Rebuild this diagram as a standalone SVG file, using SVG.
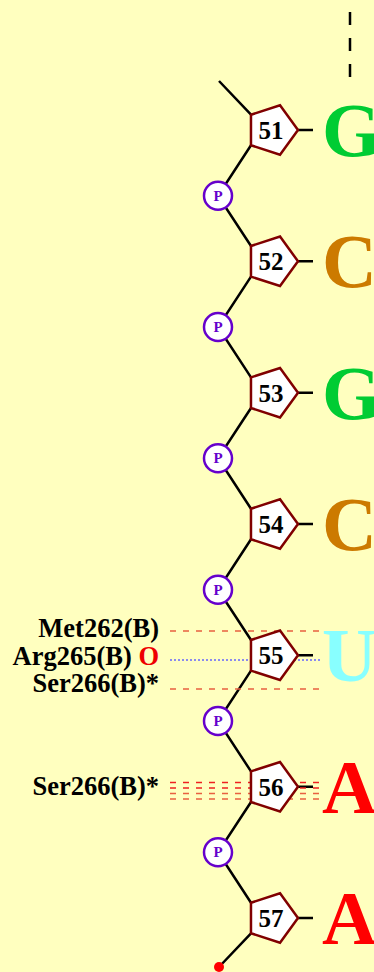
<svg xmlns="http://www.w3.org/2000/svg" xmlns:xlink="http://www.w3.org/1999/xlink" width="374" height="972" viewBox="0 0 374 972">
<style>
text{font-family:"Liberation Serif","Times New Roman",serif;font-weight:bold}
.bb{stroke:#000;stroke-width:2.5;fill:none}
.pent{fill:#fff;stroke:#800000;stroke-width:2.5}
.num{font-size:25px;fill:#000;text-anchor:middle}
.ph{fill:#fff;stroke:#6600cc;stroke-width:2.5}
.pt{font-size:15px;fill:#6600cc;text-anchor:middle}
.base{font-size:76px}
.lab{font-size:26.5px;fill:#000;text-anchor:end}
.hb{stroke:#e86040;stroke-width:1.3;stroke-dasharray:6 7;fill:none}
.hr{stroke:#ee2020;stroke-width:1.3;stroke-dasharray:6 7;fill:none}
.vdw{stroke:#6666ff;stroke-width:1.5;stroke-dasharray:2 2;fill:none}
</style>
<defs>
<polygon id="pent" points="26,0 8.03,24.73 -21.03,15.28 -21.03,-15.28 8.03,-24.73"/>
</defs>
<rect width="374" height="972" fill="#ffffbf"/>
<g id="connectors">
<line x1="350" y1="12" x2="350" y2="77" stroke="#000" stroke-width="2.5" stroke-dasharray="13 13"/>
<path class="bb" d="M219,81 L251,114.7 M251,145.3 L218,195.7 L251,246 M251,276.6 L218,327 L251,377.4 M251,408 L218,458.3 L251,508.7 M251,539.3 L218,589.7 L251,640 M251,670.6 L218,721 L251,771.4 M251,802 L218,852.3 L251,902.7 M251,933.3 L219,967"/>
<path class="bb" d="M298,130 H313 M298,261.3 H313 M298,392.7 H313 M298,524 H313 M298,655.3 H313 M298,786.7 H313 M298,918 H313"/>
<line class="hb" x1="170" y1="631" x2="322" y2="631"/>
<line class="vdw" x1="170" y1="660" x2="322" y2="660"/>
<line class="hb" x1="170" y1="689" x2="322" y2="689"/>
<line class="hr" x1="170" y1="782.5" x2="322" y2="782.5"/>
<line class="hr" x1="170" y1="788" x2="322" y2="788"/>
<line class="hb" x1="170" y1="793.5" x2="322" y2="793.5"/>
<line class="hb" x1="170" y1="799" x2="322" y2="799"/>
<circle cx="219" cy="967" r="5" fill="#ff0000"/>
</g>
<g id="n51"><use xlink:href="#pent" href="#pent" class="pent" x="272" y="130"/><text class="num" x="271" y="139">51</text><text class="base" x="322" y="156" fill="#00cc33">G</text></g>
<g id="p1"><circle class="ph" cx="218" cy="195.7" r="14"/><text class="pt" x="218" y="200.8">P</text></g>
<g id="n52"><use xlink:href="#pent" href="#pent" class="pent" x="272" y="261.3"/><text class="num" x="271" y="270.3">52</text><text class="base" x="322" y="287.3" fill="#cc7a00">C</text></g>
<g id="p2"><circle class="ph" cx="218" cy="327" r="14"/><text class="pt" x="218" y="332.1">P</text></g>
<g id="n53"><use xlink:href="#pent" href="#pent" class="pent" x="272" y="392.7"/><text class="num" x="271" y="401.7">53</text><text class="base" x="322" y="418.7" fill="#00cc33">G</text></g>
<g id="p3"><circle class="ph" cx="218" cy="458.3" r="14"/><text class="pt" x="218" y="463.4">P</text></g>
<g id="n54"><use xlink:href="#pent" href="#pent" class="pent" x="272" y="524"/><text class="num" x="271" y="533">54</text><text class="base" x="322" y="550" fill="#cc7a00">C</text></g>
<g id="p4"><circle class="ph" cx="218" cy="589.7" r="14"/><text class="pt" x="218" y="594.8">P</text></g>
<g id="n55"><use xlink:href="#pent" href="#pent" class="pent" x="272" y="655.3"/><text class="num" x="271" y="664.3">55</text><text class="base" x="322" y="681.3" fill="#88ffff">U</text></g>
<g id="p5"><circle class="ph" cx="218" cy="721" r="14"/><text class="pt" x="218" y="726.1">P</text></g>
<g id="n56"><use xlink:href="#pent" href="#pent" class="pent" x="272" y="786.7"/><text class="num" x="271" y="795.7">56</text><text class="base" x="322" y="812.7" fill="#ff0000">A</text></g>
<g id="p6"><circle class="ph" cx="218" cy="852.3" r="14"/><text class="pt" x="218" y="857.4">P</text></g>
<g id="n57"><use xlink:href="#pent" href="#pent" class="pent" x="272" y="918"/><text class="num" x="271" y="927">57</text><text class="base" x="322" y="944" fill="#ff0000">A</text></g>
<g id="res-met262"><text class="lab" x="159" y="637">Met262(B)</text></g>
<g id="res-arg265"><text class="lab" x="159" y="664.5">Arg265(B) <tspan fill="#ee0000">O</tspan></text></g>
<g id="res-ser266a"><text class="lab" x="159" y="692">Ser266(B)*</text></g>
<g id="res-ser266b"><text class="lab" x="159" y="795">Ser266(B)*</text></g>
</svg>
